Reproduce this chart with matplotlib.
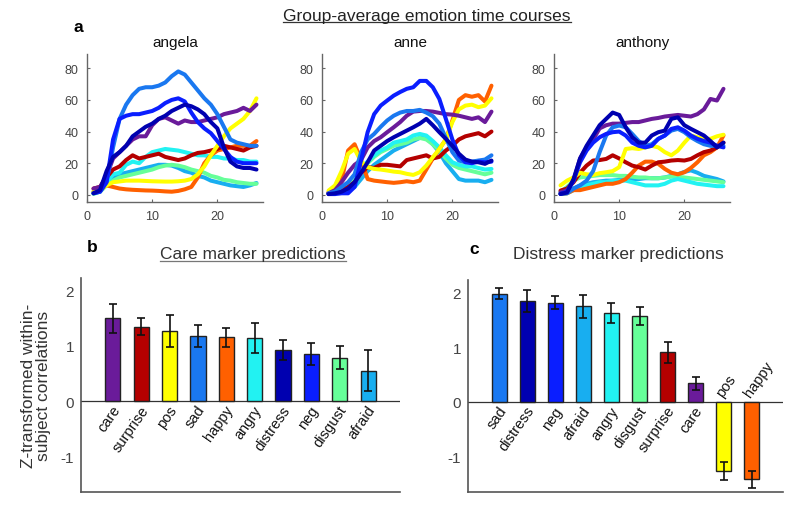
import matplotlib
matplotlib.use('Agg')
import matplotlib.pyplot as plt
from matplotlib.lines import Line2D
import numpy as np

plt.rcParams['font.family'] = ['Liberation Sans', 'DejaVu Sans']
plt.rcParams['axes.unicode_minus'] = False

# ---------------- data ----------------
time_points = list(range(1, 27))
people = ['angela', 'anne', 'anthony']

emotion_colors = {
    'care': '#6a1b9a', 'surprise': '#b40000', 'pos': '#ffff00', 'sad': '#1a78f0',
    'happy': '#ff6000', 'angry': '#22f2f2', 'distress': '#0000b0', 'neg': '#0a1eff',
    'disgust': '#66ff99', 'afraid': '#18aef0',
}
draw_order = ['afraid', 'disgust', 'angry', 'happy', 'surprise', 'pos', 'care', 'sad', 'neg', 'distress']

angela_sad = [1, 2, 8, 30, 48, 57, 63, 67, 68, 68, 69, 71, 75, 78, 76, 71, 66, 61, 57, 51, 43, 35, 33, 32, 31, 31]
angela_neg = [1, 2, 8, 35, 48, 50, 51, 51, 52, 53, 55, 58, 60, 61, 59, 52, 46, 42, 39, 34, 29, 24, 21, 20, 20, 20]
angela_distress = [1, 3, 15, 24, 27, 31, 37, 40, 43, 45, 48, 50, 53, 55, 57, 56, 54, 51, 46, 42, 30, 21, 18, 17, 17, 16]
angela_care = [4, 5, 12, 23, 27, 31, 35, 37, 37, 44, 48, 49, 47, 45, 47, 46, 46, 47, 48, 49, 51, 52, 53, 55, 53, 57]
angela_surprise = [4, 5, 11, 16, 18, 22, 25, 23, 24, 25, 26, 24, 23, 22, 23, 25, 26.5, 27, 28, 29, 31, 30, 29, 28, 30, 31]
angela_angry = [2, 3, 8, 13, 14, 19, 21, 20, 24, 27, 28, 29, 28.5, 28, 27, 26, 25, 25, 24, 24, 23, 23, 22, 22, 21, 21]
angela_afraid = [1, 3, 8, 11, 13, 14, 15, 16, 17, 18, 19, 19, 18.5, 17, 15, 14, 12, 11, 9, 8, 7, 6, 5.5, 5, 6, 7.5]
angela_disgust = [0.6, 2, 6, 9, 11, 12, 13, 14, 15, 16, 17.5, 18.5, 19, 18.5, 17.5, 16, 15, 14, 12, 11, 9.5, 9, 8, 7.5, 7, 7]
angela_pos = [2, 3, 6, 8, 8.5, 9, 9, 9, 8.8, 8.6, 8.5, 8.4, 8.4, 8.6, 9, 10, 13, 18, 25, 31, 37, 42, 45, 48, 53, 61]
angela_happy = [2, 4, 6, 5, 4, 3.5, 3.2, 3, 2.8, 2.7, 2.5, 2.2, 2, 2.5, 3.5, 5, 11, 20, 25, 28, 29, 30, 31, 31, 31, 34]

anne_happy = [1.7, 4, 9, 28, 32, 22, 10, 9, 8.5, 8, 7.6, 8, 8.6, 8, 9, 16, 23, 29, 35, 47, 60, 63, 62, 63, 59, 69]
anne_pos = [2.7, 6, 15, 26, 29, 21, 17.5, 16.4, 16, 15.4, 14.7, 14.3, 13.3, 12.6, 14.3, 18.5, 23.8, 29, 35, 46, 54, 56.4, 57, 55.4, 56.4, 61]
anne_sad = [1, 2, 5, 8, 13, 27, 35, 38.5, 43, 47, 50, 52, 53, 53, 53.7, 52, 49.7, 45, 36, 27, 21.7, 20.6, 21, 21.7, 22.3, 25]
anne_neg = [0.5, 0.5, 1, 1, 5, 22, 39.6, 51, 56.4, 59.6, 62.7, 65, 67, 68, 72, 72, 68, 60.6, 48, 35, 25, 20.6, 20, 21, 20.6, 21]
anne_care = [1, 3, 8, 14, 19, 22, 30, 34, 36.4, 39.6, 42.7, 46, 50, 52.6, 53, 53, 52.6, 51.8, 51, 50.7, 50, 49, 48, 49, 46, 52.6]
anne_distress = [0.5, 1, 2, 4, 8, 14, 20.6, 28, 31, 34, 36.4, 38.5, 40.6, 42.7, 45, 48, 44, 39.6, 35.4, 31, 26, 22.3, 21, 20.6, 19.6, 21.7]
anne_angry = [1, 2, 3, 4, 8, 17.5, 21, 25, 28, 30, 33, 34, 35, 37.5, 38.5, 37.5, 34, 30, 25, 20.6, 19, 18, 18, 17, 16, 16.4]
anne_disgust = [1, 2, 3, 5, 9, 16, 20, 24, 27, 29, 31, 32, 33, 35, 36, 35, 32, 28, 23, 19, 17, 16, 15, 14, 13, 14]
anne_afraid = [1, 1, 2, 3, 5, 10, 15, 19, 22, 25, 28, 30, 32, 34, 36, 36, 32, 27, 20, 15, 10, 9, 9, 9, 8, 9.5]
anne_surprise = [1, 2, 3, 5, 8, 14, 17.5, 17, 19, 19, 18.5, 18, 22, 23, 24, 25, 23, 24, 28, 31, 35, 37, 38, 39, 37, 40]

anthony_care = [1.7, 3, 9, 23, 30, 35, 42, 44, 45, 45, 45.5, 46, 46, 47, 48, 48.6, 49.5, 50, 50.5, 50, 49.5, 51, 54, 60.6, 59.6, 67]
anthony_distress = [0.6, 1.5, 10, 23, 31, 37.5, 44, 48, 52, 50.5, 42.7, 36.4, 33, 33, 37.5, 39.6, 40.6, 48, 49, 44, 41.7, 39.6, 37.5, 34, 30, 33]
anthony_neg = [0.6, 2, 9, 20.6, 28, 33, 36.4, 38.5, 39.6, 40, 37.5, 33, 31, 30, 31, 35.4, 37.5, 41.7, 42.7, 40.6, 37.5, 35.4, 34, 33, 31, 30]
anthony_sad = [0.6, 1, 4, 6, 9, 15, 27, 37.5, 42.7, 43.8, 42.7, 38.5, 34, 31, 32, 35.4, 37.5, 40.6, 41.7, 39.6, 36.4, 34, 32, 31, 31, 31]
anthony_surprise = [2.7, 4, 8, 14, 18.5, 21.7, 22, 22.7, 25, 23, 20.6, 18.5, 17.5, 16, 18.5, 20.6, 21, 21.7, 22, 21.7, 22.7, 25, 27, 28, 30, 33]
anthony_pos = [6, 9, 11, 14, 13, 12.6, 13.7, 14.3, 15, 17.5, 29, 29.5, 29, 30, 31, 30, 27, 25, 28, 33, 37.5, 36.4, 35.4, 35.4, 37, 38]
anthony_happy = [0.6, 1, 3, 3, 4, 5, 6, 7, 7, 8, 10, 14, 18.5, 21, 21, 19.6, 16.4, 14, 13, 14.3, 17, 20.6, 25, 27, 30, 37.5]
anthony_angry = [0.6, 1, 3, 5, 6, 7, 8, 8, 9, 9, 9, 8, 7, 6, 6, 6, 7, 9, 10, 9, 8, 7, 6.5, 6, 5.5, 5.5]
anthony_disgust = [2, 5, 9, 11, 11.5, 12, 12.5, 12.5, 12.5, 12, 12, 11.5, 11, 11, 10.5, 10.5, 11, 11.5, 11.5, 11, 10.5, 10, 9.5, 9, 8.5, 8]
anthony_afraid = [1, 2, 4, 6, 7, 8, 8.5, 9, 9, 9.5, 9.5, 10, 10, 10.5, 10.5, 10.5, 11, 12, 13, 14.5, 15.5, 14, 12, 11, 10, 8.5]

care_labels = ['care', 'surprise', 'pos', 'sad', 'happy', 'angry', 'distress', 'neg', 'disgust', 'afraid']
care_values = [1.49, 1.34, 1.27, 1.17, 1.15, 1.13, 0.92, 0.85, 0.78, 0.55]
care_errors = [0.27, 0.15, 0.29, 0.20, 0.17, 0.27, 0.18, 0.20, 0.21, 0.37]

distress_labels = ['sad', 'distress', 'neg', 'afraid', 'angry', 'disgust', 'surprise', 'care', 'pos', 'happy']
distress_values = [1.97, 1.84, 1.81, 1.74, 1.62, 1.56, 0.90, 0.34, -1.26, -1.41]
distress_errors = [0.10, 0.20, 0.12, 0.21, 0.19, 0.16, 0.19, 0.12, 0.16, 0.16]

series = {
    'angela': {'sad': angela_sad, 'neg': angela_neg, 'distress': angela_distress, 'care': angela_care,
               'surprise': angela_surprise, 'angry': angela_angry, 'afraid': angela_afraid,
               'disgust': angela_disgust, 'pos': angela_pos, 'happy': angela_happy},
    'anne': {'sad': anne_sad, 'neg': anne_neg, 'distress': anne_distress, 'care': anne_care,
             'surprise': anne_surprise, 'angry': anne_angry, 'afraid': anne_afraid,
             'disgust': anne_disgust, 'pos': anne_pos, 'happy': anne_happy},
    'anthony': {'sad': anthony_sad, 'neg': anthony_neg, 'distress': anthony_distress, 'care': anthony_care,
                'surprise': anthony_surprise, 'angry': anthony_angry, 'afraid': anthony_afraid,
                'disgust': anthony_disgust, 'pos': anthony_pos, 'happy': anthony_happy},
}

# ---------------- figure ----------------
W, H = 800, 506
fig = plt.figure(figsize=(W / 100, H / 100), dpi=100)

def fx(px):
    return px / W

def fy(py):
    return 1 - py / H

spine_col = '#666666'
tick_col = '#444444'

top_lefts = [87, 322, 554]
for person, left in zip(people, top_lefts):
    ax = fig.add_axes([fx(left), fy(203), fx(176), (203 - 55) / H])
    for emo in draw_order:
        ax.plot(time_points, series[person][emo], color=emotion_colors[emo], lw=2.9,
                solid_capstyle='round', solid_joinstyle='round')
    ax.set_xlim(0, 27)
    ax.set_ylim(-4.5, 89)
    ax.set_xticks([0, 10, 20])
    ax.set_yticks([0, 20, 40, 60, 80])
    for s in ['top', 'right']:
        ax.spines[s].set_visible(False)
    for s in ['left', 'bottom']:
        ax.spines[s].set_color(spine_col)
        ax.spines[s].set_linewidth(1.0)
    ax.tick_params(direction='in', length=2.5, width=0.8, colors=spine_col,
                   labelcolor=tick_col, labelsize=9, pad=6)
    ax.set_title(person, fontsize=11, pad=6, color='#111111')


def bar_panel(left_px, right_px, top_px, labels, values, errors):
    ax = fig.add_axes([fx(left_px), fy(493), fx(right_px - left_px), (493 - top_px) / H])
    pos = np.arange(1, len(labels) + 1)
    cols = [emotion_colors[l] for l in labels]
    ax.bar(pos, values, width=0.54, color=cols, edgecolor='#222222', linewidth=1.0, zorder=2)
    ax.errorbar(pos, values, yerr=errors, fmt='none', ecolor='#111111', elinewidth=1.2,
                capsize=3, capthick=1.2, zorder=3)
    ax.axhline(0, color='#333333', lw=0.9, zorder=1)
    ax.set_xlim(-0.12, 11.12)
    ax.set_ylim(-1.64, 2.22)
    ax.set_xticks([])
    ax.set_yticks([-1, 0, 1, 2])
    for s in ['top', 'right']:
        ax.spines[s].set_visible(False)
    for s in ['left', 'bottom']:
        ax.spines[s].set_color('#555555')
        ax.spines[s].set_linewidth(1.2)
    ax.tick_params(axis='y', direction='in', length=0, labelsize=11, labelcolor=tick_col, pad=5)
    for p, lab, v in zip(pos, labels, values):
        if v >= 0:
            ax.text(p + 0.15, -0.1, lab, rotation=55, rotation_mode='anchor', ha='right',
                    va='center', fontsize=10.5, color='#111111')
        else:
            ax.text(p - 0.15, 0.12, lab, rotation=55, rotation_mode='anchor', ha='left',
                    va='center', fontsize=10.5, color='#111111')
    return ax

bar_panel(81, 400, 279, care_labels, care_values, care_errors)
bar_panel(468, 783, 281, distress_labels, distress_values, distress_errors)

# titles & labels
t_main = fig.text(fx(427), fy(16), 'Group-average emotion time courses', ha='center', va='center',
                  fontsize=12.5, color='#222222')
t_care = fig.text(fx(253), fy(255), 'Care marker predictions', ha='center', va='center',
                  fontsize=12.5, color='#333333')
fig.text(fx(618), fy(255), 'Distress marker predictions', ha='center', va='center',
         fontsize=12.5, color='#333333')
fig.text(fx(78), fy(28), 'a', ha='center', va='center', fontsize=12.5, fontweight='bold')
fig.text(fx(92), fy(248), 'b', ha='center', va='center', fontsize=12.5, fontweight='bold')
fig.text(fx(474), fy(249), 'c', ha='center', va='center', fontsize=12.5, fontweight='bold')
fig.text(fx(36), fy(386), 'Z-transformed within-\nsubject correlations', rotation=90,
         ha='center', va='center', fontsize=12.5, color='#333333', linespacing=1.0)

# underlines
fig.canvas.draw()
renderer = fig.canvas.get_renderer()
for t, col in [(t_main, '#333333'), (t_care, '#777777')]:
    bb = t.get_window_extent(renderer)
    y = (bb.y0 + 0.5) / H
    fig.add_artist(Line2D([bb.x0 / W, bb.x1 / W], [y, y], color=col, lw=0.9,
                          transform=fig.transFigure))

fig.savefig('out.png', dpi=100)
